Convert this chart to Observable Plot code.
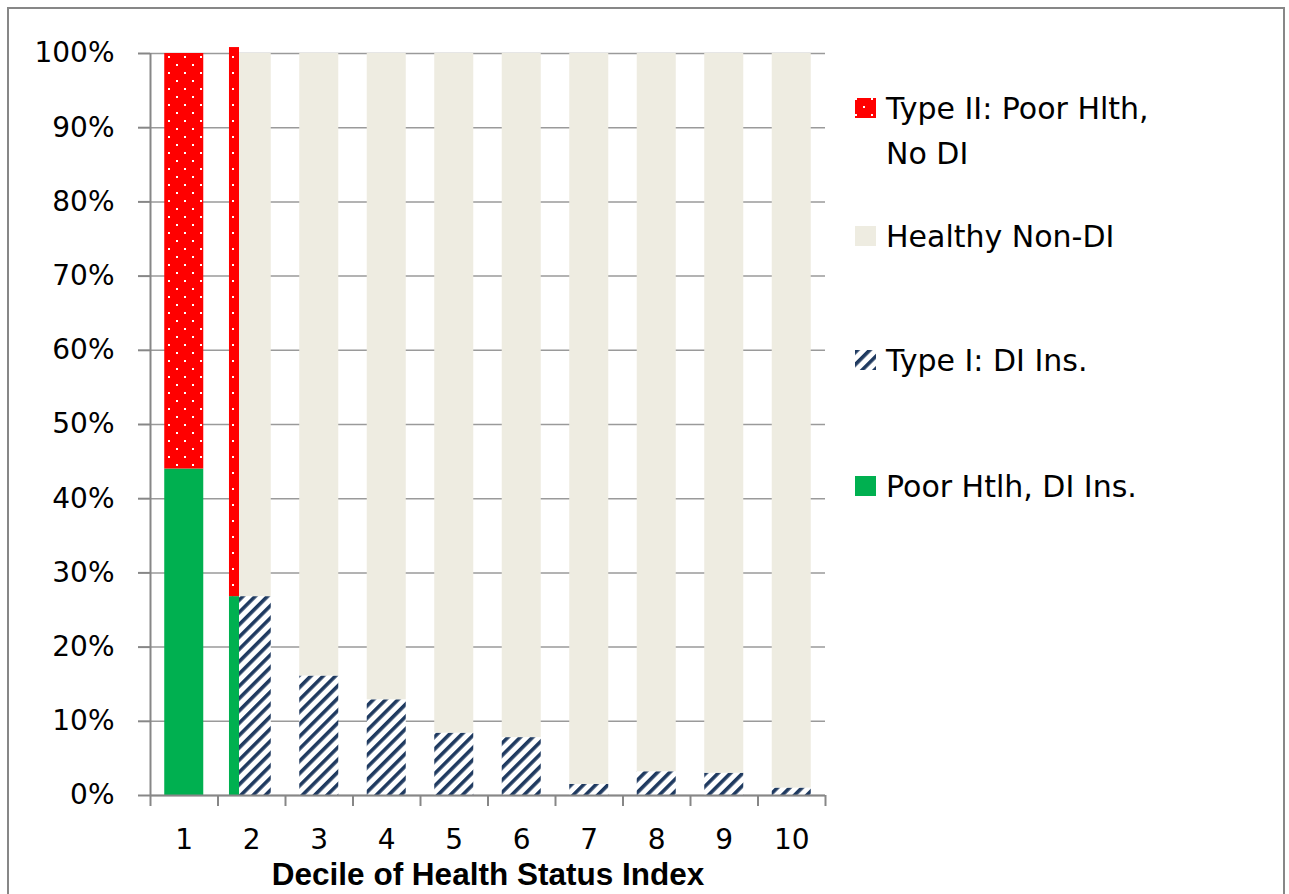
<!DOCTYPE html>
<html>
<head>
<meta charset="utf-8">
<script src="https://cdn.jsdelivr.net/npm/d3@7"></script>
<script src="https://cdn.jsdelivr.net/npm/@observablehq/plot@0.6"></script>
<style>
  html, body { margin: 0; padding: 0; background: #fff; }
  #wrap { position: relative; width: 1289px; height: 894px; overflow: hidden; font-family: "DejaVu Sans", sans-serif; }
  #frame { position: absolute; left: 7px; top: 7px; width: 1278px; height: 920px; border: 2px solid #878787; box-sizing: border-box; pointer-events: none; }
  #chart { position: absolute; left: 0; top: 0; }
  .leg { position: absolute; left: 855px; font-size: 30px; line-height: 45px; color: #000; }
  .leg .sw { position: absolute; left: 0; width: 21px; height: 20px; }
  .leg .tx { position: absolute; left: 31px; white-space: nowrap; }
</style>
</head>
<body>
<svg width="0" height="0" style="position:absolute">
  <defs>
    <pattern id="dots" width="16" height="16" patternUnits="userSpaceOnUse">
      <rect width="16" height="16" fill="#FF0000"/>
      <rect x="0" y="0" width="2" height="2" fill="#ffffff"/>
      <rect x="8" y="8" width="2" height="2" fill="#ffffff"/>
    </pattern>
    <pattern id="hatch" width="8.7" height="8.7" patternUnits="userSpaceOnUse" patternTransform="rotate(45)">
      <rect width="8.7" height="8.7" fill="#ffffff"/>
      <rect width="3.6" height="8.7" fill="#1F3A60"/>
    </pattern>
  </defs>
</svg>
<div id="wrap">
  <div id="chart"></div>
  <div id="frame"></div>
</div>
<script>
// ---- data ----
const deciles = [1, 2, 3, 4, 5, 6, 7, 8, 9, 10];
const poorHlthDIIns = [44.0, 26.8, 0, 0, 0, 0, 0, 0, 0, 0];
const typeIIPoorNoDI = [56.0, 74.0, 0, 0, 0, 0, 0, 0, 0, 0];
const typeIDIIns = [0, 26.8, 16.1, 12.9, 8.4, 7.8, 1.5, 3.2, 3.0, 1.0];
const healthyNonDI = [0, 73.2, 83.9, 87.1, 91.6, 92.2, 98.5, 96.8, 97.0, 99.0];
const yTicks = [0, 10, 20, 30, 40, 50, 60, 70, 80, 90, 100];
const seriesNames = ["Type II: Poor Hlth, No DI", "Healthy Non-DI", "Type I: DI Ins.", "Poor Htlh, DI Ins."];
const legendLabels = [["Type II: Poor Hlth,", "No DI"], ["Healthy Non-DI"], ["Type I: DI Ins."], ["Poor Htlh, DI Ins."]];
const seriesFills = ["url(#dots)", "#EEECE1", "url(#hatch)", "#00B050"];
const xTitle = "Decile of Health Status Index";

// ---- build tables ----
const HALF = 0.289;
const mainRows = [], poorRows = [];
deciles.forEach((d, i) => {
  const hasMain = typeIDIIns[i] + healthyNonDI[i] > 0;
  const hasPoor = poorHlthDIIns[i] + typeIIPoorNoDI[i] > 0;
  const strip = hasMain && hasPoor;
  let y = 0;
  [[seriesNames[3], poorHlthDIIns[i]], [seriesNames[0], typeIIPoorNoDI[i]]].forEach(([s, v]) => {
    if (v > 0) { poorRows.push({decile: d, series: s, y1: y, y2: y + v, strip}); y += v; }
  });
  y = 0;
  [[seriesNames[2], typeIDIIns[i]], [seriesNames[1], healthyNonDI[i]]].forEach(([s, v]) => {
    if (v > 0) { mainRows.push({decile: d, series: s, y1: y, y2: y + v}); y += v; }
  });
});
const boundaries = deciles.map(d => d - 0.5).concat([deciles[deciles.length - 1] + 0.5]);

const plot = Plot.plot({
  width: 1289,
  height: 894,
  marginLeft: 150,
  marginRight: 464,
  marginTop: 53,
  marginBottom: 99,
  style: {fontFamily: "DejaVu Sans, sans-serif", background: "transparent"},
  x: {type: "linear", domain: [0.5, 10.5]},
  y: {domain: [0, 100]},
  color: {type: "ordinal", domain: seriesNames, range: seriesFills},
  marks: [
    Plot.ruleY(yTicks, {stroke: "#9a9a9a", strokeWidth: 1.5}),
    Plot.rect(mainRows, {
      x1: d => d.decile - HALF, x2: d => d.decile + HALF,
      y1: "y1", y2: "y2", fill: "series"
    }),
    Plot.rect(poorRows, {
      x1: d => d.strip ? d.decile - 0.330 : d.decile - HALF,
      x2: d => d.strip ? d.decile - 0.1815 : d.decile + HALF,
      y1: "y1", y2: "y2", fill: "series"
    }),
    Plot.ruleY([0], {stroke: "#878787", strokeWidth: 2}),
    Plot.ruleX([0.5], {stroke: "#878787", strokeWidth: 2}),
    Plot.axisY({ticks: yTicks, tickSize: 12, tickPadding: 24, tickFormat: d => d + "%",
      fontSize: 28, stroke: "#878787", strokeWidth: 2, fill: "#000", label: null}),
    Plot.axisX({ticks: boundaries, tickSize: 11, tickFormat: () => "", stroke: "#878787", strokeWidth: 2, label: null}),
    Plot.text(deciles, {x: d => d, frameAnchor: "bottom", lineAnchor: "middle", dy: 45, fontSize: 28, fill: "#000", text: d => String(d)}),
    Plot.text([xTitle], {frameAnchor: "bottom", lineAnchor: "middle", dy: 79, fontSize: 31.5, fontWeight: "bold",
      fontFamily: "Liberation Sans, Arial, sans-serif", fill: "#000"})
  ]
});
document.getElementById("chart").appendChild(plot);

// ---- legend ----
const legendTops = [86, 214, 338, 464];
const wrap = document.getElementById("wrap");
seriesNames.forEach((s, i) => {
  const item = document.createElement("div");
  item.className = "leg";
  item.style.top = legendTops[i] + "px";
  const sw = document.createElementNS("http://www.w3.org/2000/svg", "svg");
  sw.setAttribute("class", "sw");
  sw.setAttribute("width", 21); sw.setAttribute("height", 20);
  sw.style.top = "12px";
  const r = document.createElementNS("http://www.w3.org/2000/svg", "rect");
  r.setAttribute("width", 21); r.setAttribute("height", 20);
  r.setAttribute("fill", seriesFills[i]);
  sw.appendChild(r);
  item.appendChild(sw);
  const tx = document.createElement("div");
  tx.className = "tx";
  tx.innerHTML = legendLabels[i].join("<br>");
  item.appendChild(tx);
  wrap.appendChild(item);
});
</script>
</body>
</html>
